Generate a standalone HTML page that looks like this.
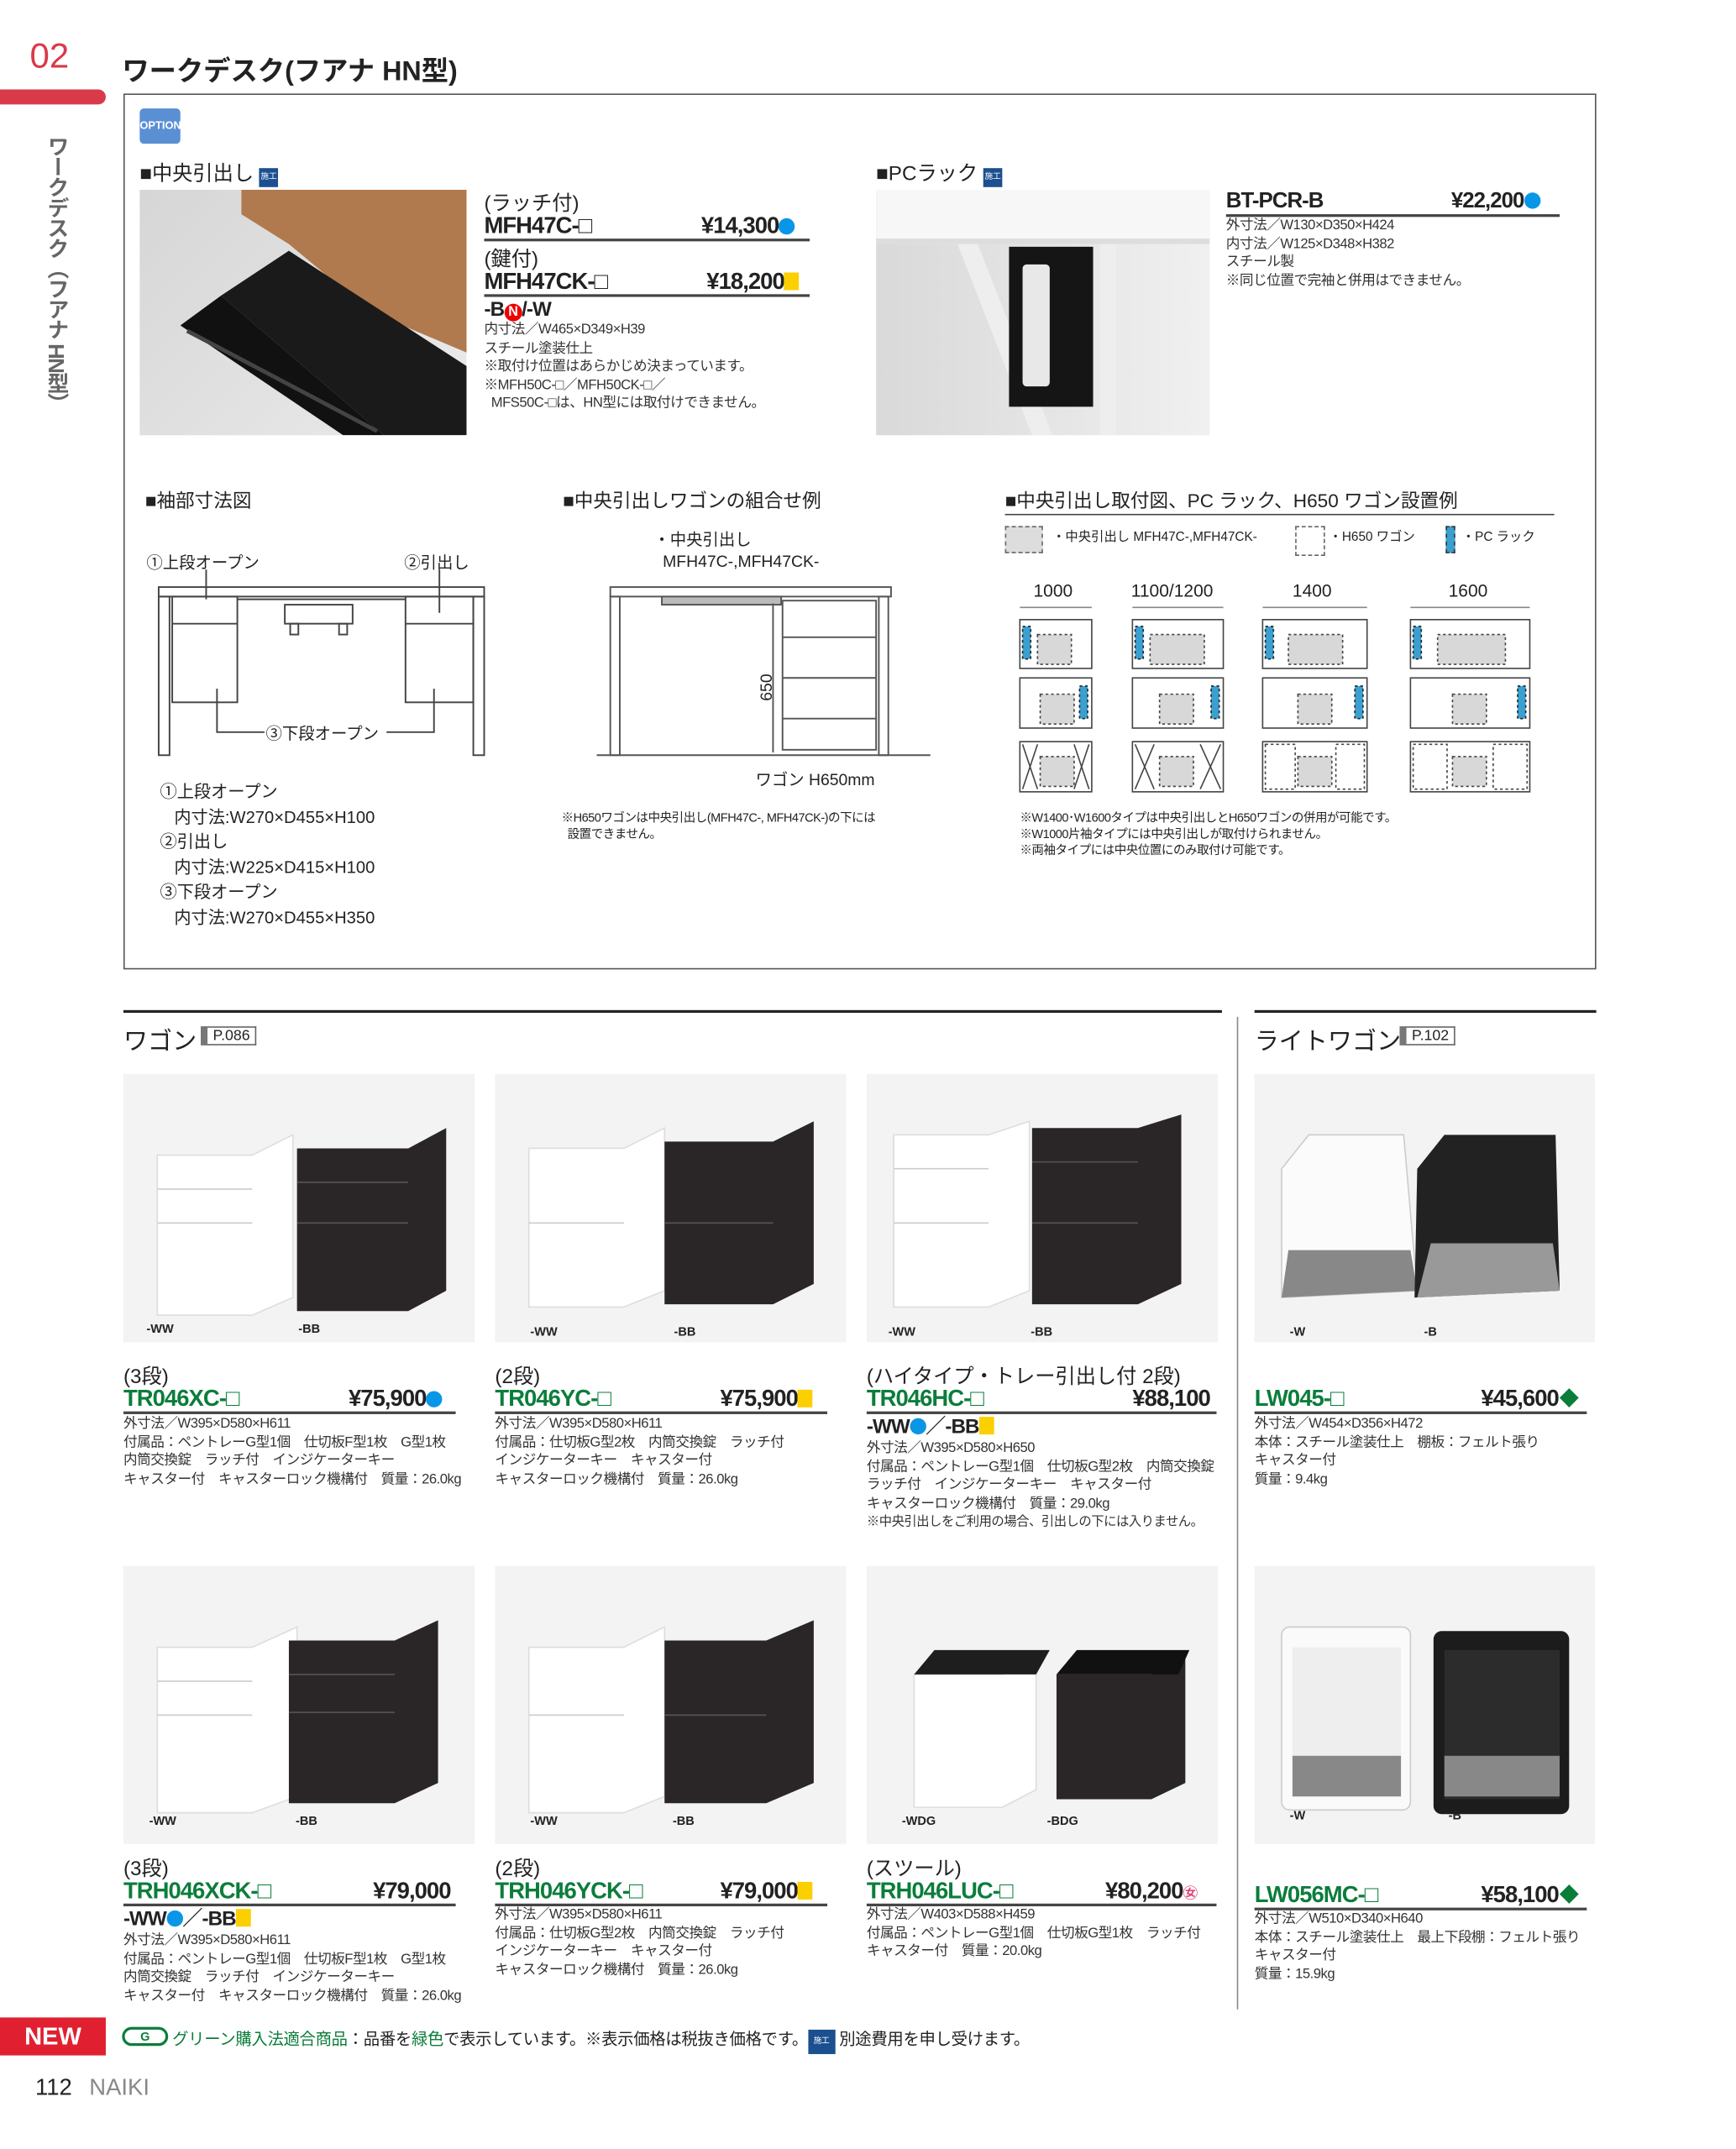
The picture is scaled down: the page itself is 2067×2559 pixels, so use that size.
<!DOCTYPE html>
<html><head><meta charset="utf-8">
<style>
*{margin:0;padding:0;box-sizing:border-box}
html,body{width:2067px;height:2559px;overflow:hidden;background:#fff}
#p{position:absolute;left:0;top:0;width:1280px;height:1585px;transform:scale(1.6148,1.6145);transform-origin:0 0;font-family:"Liberation Sans","Noto Sans CJK JP",sans-serif;color:#222}
.a{position:absolute;white-space:nowrap}
.s{font-size:10.3px;line-height:13.5px;color:#333;letter-spacing:-0.3px}
.h{font-size:14px}
.m{font-weight:bold;font-size:17px;letter-spacing:-0.6px;line-height:20px}
.g{color:#0b7d3b}
.ul{position:absolute;height:1.5px;background:#444}
.ph{position:absolute;background:#f3f3f3}
.cap{position:absolute;font-size:9px;font-weight:bold}
.dot{display:inline-block;width:12px;height:12px;border-radius:50%;background:#0a96e6;vertical-align:-1px}
.sq{display:inline-block;width:11px;height:13px;background:#fccf00;vertical-align:-1px}
.dia{display:inline-block;width:10px;height:10px;background:#0b7d3b;transform:rotate(45deg);margin-left:3px;vertical-align:1px}
.badge{display:inline-block;width:14px;height:14px;background:#1b4f8f;color:#fff;font-size:6px;line-height:14px;text-align:center;vertical-align:1px}
.tag{position:absolute;height:14px;border:1px solid #666;border-left:5px solid #777;font-size:11px;line-height:12px;padding:0 4px}
</style></head><body><div id="p">
<div class="a" style="left:22px;top:26px;font-size:26px;color:#d93a4a">02</div>
<div class="a" style="left:0;top:66px;width:78px;height:11px;background:#d93a4a;border-radius:0 6px 6px 0"></div>
<div class="a" style="left:28px;top:100px;writing-mode:vertical-rl;font-size:16px;color:#666;font-weight:bold;letter-spacing:-1px">ワークデスク（フアナ HN型）</div>
<div class="a" style="left:90px;top:36px;font-size:20px;font-weight:bold">ワークデスク(フアナ HN型)</div>
<div class="a" style="left:91px;top:69px;width:1086px;height:646px;border:1px solid #555"></div>
<div class="a" style="left:103px;top:80px;width:30px;height:26px;background:#5b8fd4;border-radius:3px;color:#fff;font-size:8px;line-height:26px;text-align:center;font-weight:bold">OPTION</div>

<div class="a h" style="left:103px;top:117px;font-size:15px">■中央引出し <span class="badge">施工</span></div>
<div class="ph" style="left:103px;top:140px;width:241px;height:181px;background:linear-gradient(135deg,#d6d6d6,#ebebeb)">
<svg width="241" height="181"><polygon points="75,0 241,0 241,120 170,90 110,40 75,18" fill="#b07a4e"/><polygon points="60,78 110,45 241,130 241,181 180,181" fill="#1a1a1a"/><polygon points="30,100 60,78 180,181 150,181" fill="#111"/><line x1="35" y1="104" x2="175" y2="178" stroke="#444" stroke-width="3"/></svg></div>
<div class="a" style="left:357px;top:139px;font-size:15px">(ラッチ付)</div>
<div class="a m" style="left:357px;top:157px">MFH47C-□</div>
<div class="a m" style="left:517px;top:157px">¥14,300<span class="dot"></span></div>
<div class="ul" style="left:357px;top:176px;width:240px"></div>
<div class="a" style="left:357px;top:180px;font-size:15px">(鍵付)</div>
<div class="a m" style="left:357px;top:198px">MFH47CK-□</div>
<div class="a m" style="left:521px;top:198px">¥18,200<span class="sq"></span></div>
<div class="ul" style="left:357px;top:217px;width:240px"></div>
<div class="a m" style="left:357px;top:219px;font-size:15px">-B<span style="display:inline-block;width:13px;height:13px;border-radius:50%;background:#e00;color:#fff;font-size:10px;text-align:center;line-height:13px">N</span>/-W</div>
<div class="a s" style="left:357px;top:237px">内寸法／W465×D349×H39<br>スチール塗装仕上<br>※取付け位置はあらかじめ決まっています。<br>※MFH50C-□／MFH50CK-□／<br>&nbsp;&nbsp;MFS50C-□は、HN型には取付けできません。</div>

<div class="a h" style="left:646px;top:117px;font-size:15px">■PCラック <span class="badge">施工</span></div>
<div class="ph" style="left:646px;top:140px;width:246px;height:181px;background:linear-gradient(90deg,#d9d9d9,#f0f0f0)">
<svg width="246" height="181"><polygon points="0,0 246,0 246,40 0,40" fill="#f7f7f7"/><rect x="0" y="36" width="246" height="4" fill="#ddd"/><polygon points="60,40 75,40 130,181 115,181" fill="#eee"/><rect x="165" y="40" width="12" height="141" fill="#eee"/><rect x="98" y="42" width="62" height="118" fill="#151515"/><rect x="108" y="55" width="20" height="90" rx="3" fill="#e8e8e8"/></svg></div>
<div class="a m" style="left:904px;top:139px;font-size:16px">BT-PCR-B</div>
<div class="a m" style="left:1070px;top:139px;font-size:16px">¥22,200<span class="dot"></span></div>
<div class="ul" style="left:904px;top:158px;width:246px"></div>
<div class="a s" style="left:904px;top:160px">外寸法／W130×D350×H424<br>内寸法／W125×D348×H382<br>スチール製<br>※同じ位置で完袖と併用はできません。</div>

<div class="a h" style="left:107px;top:359px">■袖部寸法図</div>
<div class="a" style="left:108px;top:406px;font-size:12px">①上段オープン</div>
<div class="a" style="left:298px;top:406px;font-size:12px">②引出し</div>
<svg class="a" style="left:110px;top:420px" width="260" height="150" fill="none" stroke="#444" stroke-width="1.2">
<rect x="7" y="13" width="240" height="7"/><rect x="7" y="20" width="8" height="117"/><rect x="239" y="20" width="8" height="117"/>
<rect x="17" y="20" width="48" height="78"/><line x1="17" y1="40" x2="65" y2="40"/><rect x="189" y="20" width="50" height="78"/><line x1="189" y1="40" x2="239" y2="40"/>
<line x1="65" y1="22" x2="189" y2="22"/><rect x="100" y="26" width="50" height="14"/><rect x="104" y="40" width="6" height="8"/><rect x="140" y="40" width="6" height="8"/>
<line x1="42" y1="0" x2="42" y2="22"/><line x1="214" y1="0" x2="214" y2="32"/>
<polyline points="50,88 50,120 85,120"/><polyline points="210,88 210,120 175,120"/></svg>
<div class="a" style="left:196px;top:532px;font-size:12px">③下段オープン</div>
<div class="a" style="left:118px;top:575px;font-size:12.5px;line-height:18.5px">①上段オープン<br>&nbsp;&nbsp;&nbsp;内寸法:W270×D455×H100<br>②引出し<br>&nbsp;&nbsp;&nbsp;内寸法:W225×D415×H100<br>③下段オープン<br>&nbsp;&nbsp;&nbsp;内寸法:W270×D455×H350</div>

<div class="a h" style="left:415px;top:359px">■中央引出しワゴンの組合せ例</div>
<div class="a" style="left:482px;top:390px;font-size:12px;line-height:16px">・中央引出し<br>&nbsp;&nbsp;MFH47C-,MFH47CK-</div>
<svg class="a" style="left:440px;top:425px" width="250" height="140" fill="none" stroke="#555" stroke-width="1.2">
<rect x="10" y="8" width="207" height="7"/><rect x="10" y="15" width="7" height="117"/><rect x="208" y="15" width="7" height="117"/>
<rect x="48" y="15" width="88" height="6" fill="#bbb"/><line x1="0" y1="132" x2="246" y2="132"/>
<rect x="137" y="18" width="69" height="110"/><line x1="137" y1="45" x2="206" y2="45"/><line x1="137" y1="75" x2="206" y2="75"/><line x1="137" y1="105" x2="206" y2="105"/>
<line x1="130" y1="20" x2="130" y2="130"/></svg>
<div class="a" style="left:555px;top:500px;font-size:12px;transform:rotate(-90deg)">650</div>
<div class="a" style="left:557px;top:566px;font-size:12px">ワゴン H650mm</div>
<div class="a" style="left:414px;top:597px;font-size:9px;line-height:12px;letter-spacing:-0.3px">※H650ワゴンは中央引出し(MFH47C-, MFH47CK-)の下には<br>&nbsp;&nbsp;設置できません。</div>

<div class="a h" style="left:741px;top:359px">■中央引出し取付図、PC ラック、H650 ワゴン設置例</div>
<div class="ul" style="left:741px;top:379px;width:405px;height:1px"></div>
<div class="a" style="left:741px;top:388px;width:28px;height:20px;background:#ddd;border:1px dashed #666"></div>
<div class="a" style="left:776px;top:388px;font-size:9.5px">・中央引出し MFH47C-,MFH47CK-</div>
<div class="a" style="left:955px;top:388px;width:22px;height:22px;border:1px dashed #666"></div>
<div class="a" style="left:980px;top:388px;font-size:9.5px">・H650 ワゴン</div>
<div class="a" style="left:1066px;top:388px;width:7px;height:20px;background:#3ba0d0;border:1px dashed #333"></div>
<div class="a" style="left:1078px;top:388px;font-size:9.5px">・PC ラック</div>
<div class="a" style="left:762px;top:428px;font-size:13px">1000</div>
<div class="a" style="left:834px;top:428px;font-size:13px">1100/1200</div>
<div class="a" style="left:953px;top:428px;font-size:13px">1400</div>
<div class="a" style="left:1068px;top:428px;font-size:13px">1600</div>
<svg class="a" style="left:745px;top:440px" width="400" height="150" fill="none" stroke="#444" stroke-width="1">
<g stroke="#888"><line x1="7" y1="8" x2="60" y2="8"/><line x1="90" y1="8" x2="157" y2="8"/><line x1="186" y1="8" x2="263" y2="8"/><line x1="295" y1="8" x2="383" y2="8"/></g>
<g><rect x="7" y="17" width="53" height="36"/><rect x="90" y="17" width="67" height="36"/><rect x="186" y="17" width="77" height="36"/><rect x="295" y="17" width="88" height="36"/>
<rect x="7" y="60" width="53" height="37"/><rect x="90" y="60" width="67" height="37"/><rect x="186" y="60" width="77" height="37"/><rect x="295" y="60" width="88" height="37"/>
<rect x="7" y="107" width="53" height="37"/><rect x="90" y="107" width="67" height="37"/><rect x="186" y="107" width="77" height="37"/><rect x="295" y="107" width="88" height="37"/></g>
<g fill="#d8d8d8" stroke-dasharray="2,2"><rect x="20" y="28" width="25" height="22"/><rect x="103" y="28" width="40" height="22"/><rect x="205" y="28" width="40" height="22"/><rect x="315" y="28" width="50" height="22"/>
<rect x="22" y="72" width="25" height="22"/><rect x="110" y="72" width="25" height="22"/><rect x="212" y="72" width="25" height="22"/><rect x="326" y="72" width="25" height="22"/>
<rect x="22" y="118" width="25" height="22"/><rect x="110" y="118" width="25" height="22"/><rect x="212" y="118" width="25" height="22"/><rect x="326" y="118" width="25" height="22"/></g>
<g fill="#3ba0d0" stroke="#222" stroke-dasharray="2,2"><rect x="9" y="22" width="6" height="24"/><rect x="92" y="22" width="6" height="24"/><rect x="188" y="22" width="6" height="24"/><rect x="297" y="22" width="6" height="24"/>
<rect x="51" y="66" width="6" height="24"/><rect x="148" y="66" width="6" height="24"/><rect x="254" y="66" width="6" height="24"/><rect x="374" y="66" width="6" height="24"/></g>
<g><path d="M9 109 L20 142 M20 109 L9 142 M47 109 L58 142 M58 109 L47 142 M92 109 L106 142 M106 109 L92 142 M140 109 L155 142 M155 109 L140 142"/></g>
<g stroke-dasharray="2,2"><rect x="188" y="109" width="22" height="33"/><rect x="240" y="109" width="21" height="33"/><rect x="297" y="109" width="25" height="33"/><rect x="356" y="109" width="25" height="33"/></g></svg>
<div class="a" style="left:752px;top:597px;font-size:9px;line-height:12px;letter-spacing:-0.3px">※W1400･W1600タイプは中央引出しとH650ワゴンの併用が可能です。<br>※W1000片袖タイプには中央引出しが取付けられません。<br>※両袖タイプには中央位置にのみ取付け可能です。</div>

<div class="a" style="left:91px;top:745px;width:810px;height:2px;background:#222"></div>
<div class="a" style="left:925px;top:745px;width:252px;height:2px;background:#222"></div>
<div class="a" style="left:912px;top:750px;width:1px;height:732px;background:#888"></div>
<div class="a" style="left:91px;top:754px;font-size:18px">ワゴン</div>
<div class="tag" style="left:148px;top:757px">P.086</div>
<div class="a" style="left:925px;top:754px;font-size:18px">ライトワゴン</div>
<div class="tag" style="left:1032px;top:757px">P.102</div>

<div class="ph" style="left:91px;top:792px;width:259px;height:198px"><svg width="259" height="198"><polygon points="25,60 95,60 125,45 125,165 95,178 25,178" fill="#fff" stroke="#ddd"/><g stroke="#ccc"><line x1="25" y1="85" x2="95" y2="85"/><line x1="25" y1="110" x2="95" y2="110"/></g><polygon points="128,55 210,55 238,40 238,160 210,175 128,175" fill="#2a2627"/><g stroke="#555"><line x1="128" y1="80" x2="210" y2="80"/><line x1="128" y1="110" x2="210" y2="110"/></g></svg></div>
<div class="ph" style="left:365px;top:792px;width:259px;height:198px"><svg width="259" height="198"><polygon points="25,55 95,55 125,40 125,160 95,172 25,172" fill="#fff" stroke="#ddd"/><line x1="25" y1="110" x2="95" y2="110" stroke="#ccc"/><polygon points="125,50 205,50 235,35 235,155 205,170 125,170" fill="#2a2627"/><line x1="125" y1="110" x2="205" y2="110" stroke="#555"/></svg></div>
<div class="ph" style="left:639px;top:792px;width:259px;height:198px"><svg width="259" height="198"><polygon points="20,45 90,45 120,35 120,160 90,172 20,172" fill="#fff" stroke="#ddd"/><g stroke="#ccc"><line x1="20" y1="70" x2="90" y2="70"/><line x1="20" y1="110" x2="90" y2="110"/></g><polygon points="122,40 200,40 232,30 232,155 200,170 122,170" fill="#2a2627"/><g stroke="#555"><line x1="122" y1="65" x2="200" y2="65"/><line x1="122" y1="110" x2="200" y2="110"/></g></svg></div>
<div class="ph" style="left:925px;top:792px;width:251px;height:198px"><svg width="251" height="198"><polygon points="20,70 40,45 110,45 120,160 20,165" fill="#fbfbfb" stroke="#ccc"/><polygon points="25,130 115,130 120,160 20,165" fill="#888"/><polygon points="120,70 140,45 222,45 225,160 118,165" fill="#222"/><polygon points="130,125 220,125 225,160 120,165" fill="#999"/></svg></div>
<div class="cap" style="left:108px;top:975px">-WW</div><div class="cap" style="left:220px;top:975px">-BB</div>
<div class="cap" style="left:391px;top:977px">-WW</div><div class="cap" style="left:497px;top:977px">-BB</div>
<div class="cap" style="left:655px;top:977px">-WW</div><div class="cap" style="left:760px;top:977px">-BB</div>
<div class="cap" style="left:951px;top:977px">-W</div><div class="cap" style="left:1050px;top:977px">-B</div>

<div class="a" style="left:91px;top:1004px;font-size:15px">(3段)</div>
<div class="a m g" style="left:91px;top:1022px">TR046XC-□</div>
<div class="a m" style="left:257px;top:1022px">¥75,900<span class="dot"></span></div>
<div class="ul" style="left:91px;top:1041px;width:245px"></div>
<div class="a s" style="left:91px;top:1044px">外寸法／W395×D580×H611<br>付属品：ペントレーG型1個　仕切板F型1枚　G型1枚<br>内筒交換錠　ラッチ付　インジケーターキー<br>キャスター付　キャスターロック機構付　質量：26.0kg</div>

<div class="a" style="left:365px;top:1004px;font-size:15px">(2段)</div>
<div class="a m g" style="left:365px;top:1022px">TR046YC-□</div>
<div class="a m" style="left:531px;top:1022px">¥75,900<span class="sq"></span></div>
<div class="ul" style="left:365px;top:1041px;width:245px"></div>
<div class="a s" style="left:365px;top:1044px">外寸法／W395×D580×H611<br>付属品：仕切板G型2枚　内筒交換錠　ラッチ付<br>インジケーターキー　キャスター付<br>キャスターロック機構付　質量：26.0kg</div>

<div class="a" style="left:639px;top:1004px;font-size:15px">(ハイタイプ・トレー引出し付 2段)</div>
<div class="a m g" style="left:639px;top:1022px">TR046HC-□</div>
<div class="a m" style="left:835px;top:1022px">¥88,100</div>
<div class="ul" style="left:639px;top:1041px;width:258px"></div>
<div class="a m" style="left:639px;top:1043px;font-size:15px">-WW<span class="dot"></span>／-BB<span class="sq"></span></div>
<div class="a s" style="left:639px;top:1062px">外寸法／W395×D580×H650<br>付属品：ペントレーG型1個　仕切板G型2枚　内筒交換錠<br>ラッチ付　インジケーターキー　キャスター付<br>キャスターロック機構付　質量：29.0kg<br><span style="font-size:9.5px">※中央引出しをご利用の場合、引出しの下には入りません。</span></div>

<div class="a m g" style="left:925px;top:1022px">LW045-□</div>
<div class="a m" style="left:1092px;top:1022px">¥45,600<span class="dia"></span></div>
<div class="ul" style="left:925px;top:1041px;width:245px"></div>
<div class="a s" style="left:925px;top:1044px">外寸法／W454×D356×H472<br>本体：スチール塗装仕上　棚板：フェルト張り<br>キャスター付<br>質量：9.4kg</div>

<div class="ph" style="left:91px;top:1155px;width:259px;height:205px"><svg width="259" height="205"><polygon points="25,60 95,60 128,45 128,170 95,182 25,182" fill="#fff" stroke="#ddd"/><g stroke="#ccc"><line x1="25" y1="85" x2="95" y2="85"/><line x1="25" y1="110" x2="95" y2="110"/></g><polygon points="122,55 200,55 232,40 232,160 200,175 122,175" fill="#2a2627"/><g stroke="#555"><line x1="122" y1="80" x2="200" y2="80"/><line x1="122" y1="108" x2="200" y2="108"/></g></svg></div>
<div class="ph" style="left:365px;top:1155px;width:259px;height:205px"><svg width="259" height="205"><polygon points="25,60 95,60 125,45 125,170 95,182 25,182" fill="#fff" stroke="#ddd"/><line x1="25" y1="110" x2="95" y2="110" stroke="#ccc"/><polygon points="125,55 200,55 235,40 235,160 200,175 125,175" fill="#2a2627"/><line x1="125" y1="110" x2="200" y2="110" stroke="#555"/></svg></div>
<div class="ph" style="left:639px;top:1155px;width:259px;height:205px"><svg width="259" height="205"><polygon points="35,80 100,80 125,65 125,165 100,178 35,178" fill="#fff" stroke="#ddd"/><polygon points="35,80 50,62 135,62 125,80" fill="#1e1e1e"/><polygon points="140,80 210,80 235,65 235,160 210,172 140,172" fill="#2a2627"/><polygon points="140,80 155,62 238,62 230,80" fill="#111"/></svg></div>
<div class="ph" style="left:925px;top:1155px;width:251px;height:205px"><svg width="251" height="205"><rect x="20" y="45" width="95" height="135" rx="6" fill="#fafafa" stroke="#ccc"/><rect x="28" y="60" width="80" height="110" fill="#eee"/><rect x="28" y="140" width="80" height="30" fill="#888"/><rect x="132" y="48" width="100" height="135" rx="6" fill="#1c1c1c"/><rect x="140" y="62" width="85" height="110" fill="#2c2c2c"/><rect x="140" y="140" width="85" height="30" fill="#888"/></svg></div>
<div class="cap" style="left:110px;top:1338px">-WW</div><div class="cap" style="left:218px;top:1338px">-BB</div>
<div class="cap" style="left:391px;top:1338px">-WW</div><div class="cap" style="left:496px;top:1338px">-BB</div>
<div class="cap" style="left:665px;top:1338px">-WDG</div><div class="cap" style="left:772px;top:1338px">-BDG</div>
<div class="cap" style="left:951px;top:1334px">-W</div><div class="cap" style="left:1068px;top:1334px">-B</div>

<div class="a" style="left:91px;top:1367px;font-size:15px">(3段)</div>
<div class="a m g" style="left:91px;top:1385px">TRH046XCK-□</div>
<div class="a m" style="left:275px;top:1385px">¥79,000</div>
<div class="ul" style="left:91px;top:1404px;width:245px"></div>
<div class="a m" style="left:91px;top:1406px;font-size:15px">-WW<span class="dot"></span>／-BB<span class="sq"></span></div>
<div class="a s" style="left:91px;top:1425px">外寸法／W395×D580×H611<br>付属品：ペントレーG型1個　仕切板F型1枚　G型1枚<br>内筒交換錠　ラッチ付　インジケーターキー<br>キャスター付　キャスターロック機構付　質量：26.0kg</div>

<div class="a" style="left:365px;top:1367px;font-size:15px">(2段)</div>
<div class="a m g" style="left:365px;top:1385px">TRH046YCK-□</div>
<div class="a m" style="left:531px;top:1385px">¥79,000<span class="sq"></span></div>
<div class="ul" style="left:365px;top:1404px;width:245px"></div>
<div class="a s" style="left:365px;top:1406px">外寸法／W395×D580×H611<br>付属品：仕切板G型2枚　内筒交換錠　ラッチ付<br>インジケーターキー　キャスター付<br>キャスターロック機構付　質量：26.0kg</div>

<div class="a" style="left:639px;top:1367px;font-size:15px">(スツール)</div>
<div class="a m g" style="left:639px;top:1385px">TRH046LUC-□</div>
<div class="a m" style="left:815px;top:1385px">¥80,200<span style="font-size:11px;color:#e0427a">㊛</span></div>
<div class="ul" style="left:639px;top:1404px;width:258px"></div>
<div class="a s" style="left:639px;top:1406px">外寸法／W403×D588×H459<br>付属品：ペントレーG型1個　仕切板G型1枚　ラッチ付<br>キャスター付　質量：20.0kg</div>

<div class="a m g" style="left:925px;top:1388px">LW056MC-□</div>
<div class="a m" style="left:1092px;top:1388px">¥58,100<span class="dia"></span></div>
<div class="ul" style="left:925px;top:1407px;width:245px"></div>
<div class="a s" style="left:925px;top:1409px">外寸法／W510×D340×H640<br>本体：スチール塗装仕上　最上下段棚：フェルト張り<br>キャスター付<br>質量：15.9kg</div>

<div class="a" style="left:0;top:1488px;width:78px;height:28px;background:#e02030;color:#fff;font-weight:bold;font-size:18px;line-height:28px;text-align:center">NEW</div>
<div class="a" style="left:90px;top:1495px;width:34px;height:14px;border:2px solid #0b7d3b;border-radius:7px;color:#0b7d3b;font-size:9px;line-height:10px;text-align:center;font-weight:bold">G</div>
<div class="a" style="left:127px;top:1495px;font-size:12px;letter-spacing:-0.2px"><span class="g">グリーン購入法適合商品</span>：品番を<span class="g">緑色</span>で表示しています。※表示価格は税抜き価格です。<span class="badge" style="width:20px;height:18px;line-height:18px">施工</span> 別途費用を申し受けます。</div>
<div class="a" style="left:26px;top:1530px;font-size:17px">112 <span style="color:#888;margin-left:8px">NAIKI</span></div>
</div></body></html>
